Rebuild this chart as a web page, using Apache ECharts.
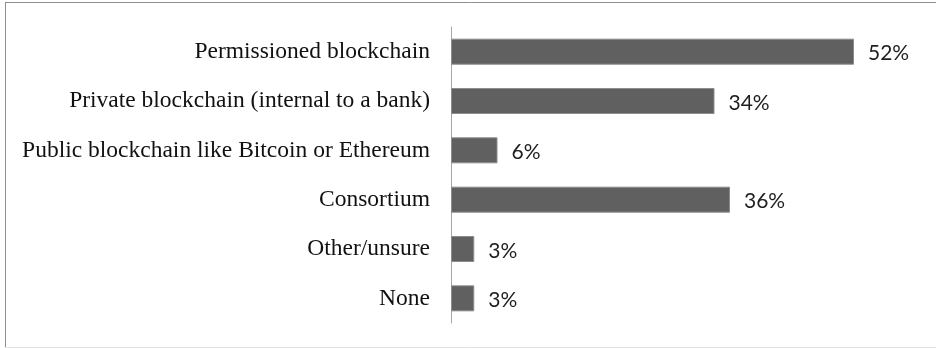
<!DOCTYPE html>
<html>
<head>
<meta charset="utf-8">
<script src="https://cdn.jsdelivr.net/npm/echarts@6/dist/echarts.min.js"></script>
<style>
  html, body { margin: 0; padding: 0; background: #ffffff; }
  #chart { width: 936px; height: 348px; }
</style>
</head>
<body>
<div id="chart"></div>
<script>
// Survey answers: which kind of blockchain is being considered (share of respondents)
const categories = [
  'Permissioned blockchain',
  'Private blockchain (internal to a bank)',
  'Public blockchain like Bitcoin or Ethereum',
  'Consortium',
  'Other/unsure',
  'None'
];
const shares = [52, 34, 6, 36, 3, 3];

const chart = echarts.init(document.getElementById('chart'), null, { renderer: 'canvas' });

chart.setOption({
  backgroundColor: '#ffffff',
  animation: false,
  grid: { left: 451, right: 20, top: 27, bottom: 25, containLabel: false },
  xAxis: {
    type: 'value',
    min: 0,
    max: 60,
    show: false
  },
  yAxis: {
    type: 'category',
    inverse: true,
    data: categories,
    axisLine: { show: true, lineStyle: { color: '#a6a6a6', width: 1 } },
    axisTick: { show: false },
    splitLine: { show: false },
    axisLabel: {
      margin: 21,
      color: '#111111',
      fontFamily: '"Liberation Serif", "Times New Roman", serif',
      fontSize: 23.5
    }
  },
  series: [{
    type: 'bar',
    data: shares,
    barWidth: 26,
    itemStyle: { color: '#606060', borderColor: '#8c8c8c', borderWidth: 1 },
    label: {
      show: true,
      position: 'right',
      distance: 14,
      offset: [0, 2],
      formatter: '{c}%',
      color: '#1e1e1e',
      fontFamily: 'Lato, "Open Sans", sans-serif',
      fontSize: 21
    }
  }],
  graphic: [
    { type: 'line', shape: { x1: 5, y1: 2.5, x2: 936, y2: 2.5 }, style: { stroke: '#8f8f8f', lineWidth: 1 } },
    { type: 'line', shape: { x1: 5.5, y1: 2, x2: 5.5, y2: 347 }, style: { stroke: '#8f8f8f', lineWidth: 1 } },
    { type: 'line', shape: { x1: 5, y1: 347.5, x2: 936, y2: 347.5 }, style: { stroke: '#e3e3e3', lineWidth: 1 } }
  ]
});
</script>
</body>
</html>
